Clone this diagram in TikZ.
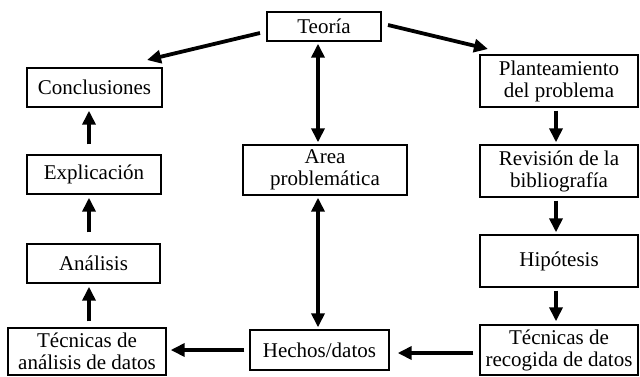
\documentclass[tikz,border=0pt]{standalone}
\usepackage{fontspec}
\setmainfont{Liberation Serif}
\usetikzlibrary{arrows.meta}
\begin{document}
\begin{tikzpicture}[x=1pt,y=-1pt,
  box/.style={draw, line width=1.4pt, align=center, inner sep=0pt,
    font=\fontsize{21}{22}\selectfont},
  conn/.style={line width=3.8pt, -{Triangle[length=14pt,width=13pt]}},
  dconn/.style={line width=3.8pt, {Triangle[length=14pt,width=13pt]}-{Triangle[length=14pt,width=13pt]}}]
\useasboundingbox (0,0) rectangle (640,376);
\node[box, minimum width=114pt, minimum height=29pt] (teo) at (324,26.5) {Teoría};
\node[box, minimum width=135pt, minimum height=39pt] (con) at (94.5,87.5) {Conclusiones};
\node[box, minimum width=134pt, minimum height=39pt] (exp) at (94,174.5) {Explicación};
\node[box, minimum width=133pt, minimum height=39pt] (ana) at (93.5,263.5) {Análisis};
\node[box, minimum width=158pt, minimum height=47pt] (tan) at (87,351.5) {Técnicas de\\análisis de datos};
\node[box, minimum width=139pt, minimum height=40pt] (hec) at (319.5,350) {Hechos/datos};
\node[box, minimum width=164pt, minimum height=50pt] (are) at (325,170) {Area\\problemática};
\node[box, minimum width=158pt, minimum height=52pt] (pla) at (559,81) {Planteamiento\\del problema};
\node[box, minimum width=158pt, minimum height=52pt] (rev) at (559,171) {Revisión de la\\bibliografía};
\node[box, minimum width=158pt, minimum height=52pt] (hip) at (559,261) {Hipótesis};
\node[box, minimum width=158pt, minimum height=50pt] (trc) at (559,350) {Técnicas de\\recogida de datos};
% arrows
\coordinate (a1s) at (260,33);
\coordinate (a1e) at (147,60);
\draw[conn] (a1s) -- (a1e);
\coordinate (a2s) at (388,25);
\coordinate (a2e) at (488,49);
\draw[conn] (a2s) -- (a2e);
\draw[dconn] ([yshift=-2pt]teo.south -| 318,0) -- ([yshift=2pt]are.north -| 318,0);
\draw[dconn] ([yshift=-2pt]are.south -| 318,0) -- ([yshift=2pt]hec.north -| 318,0);
\draw[conn] ([xshift=-5pt]hec.west) -- ([xshift=4pt]tan.east |- hec.west);
\draw[conn] ([xshift=-6pt]trc.west |- 0,353) -- ([xshift=8pt]hec.east |- 0,353);
\draw[conn] ([yshift=-3pt]pla.south -| 556,0) -- ([yshift=2pt]rev.north -| 556,0);
\draw[conn] ([yshift=-3pt]rev.south -| 556,0) -- ([yshift=2pt]hip.north -| 556,0);
\draw[conn] ([yshift=-3pt]hip.south -| 556,0) -- ([yshift=3pt]trc.north -| 556,0);
\draw[conn] ([yshift=10pt]exp.north -| 89,0) -- ([yshift=-3pt]con.south -| 89,0);
\draw[conn] ([yshift=11pt]ana.north -| 89,0) -- ([yshift=-3pt]exp.south -| 89,0);
\draw[conn] ([yshift=6pt]tan.north -| 89,0) -- ([yshift=-3pt]ana.south -| 89,0);
\end{tikzpicture}
\end{document}
